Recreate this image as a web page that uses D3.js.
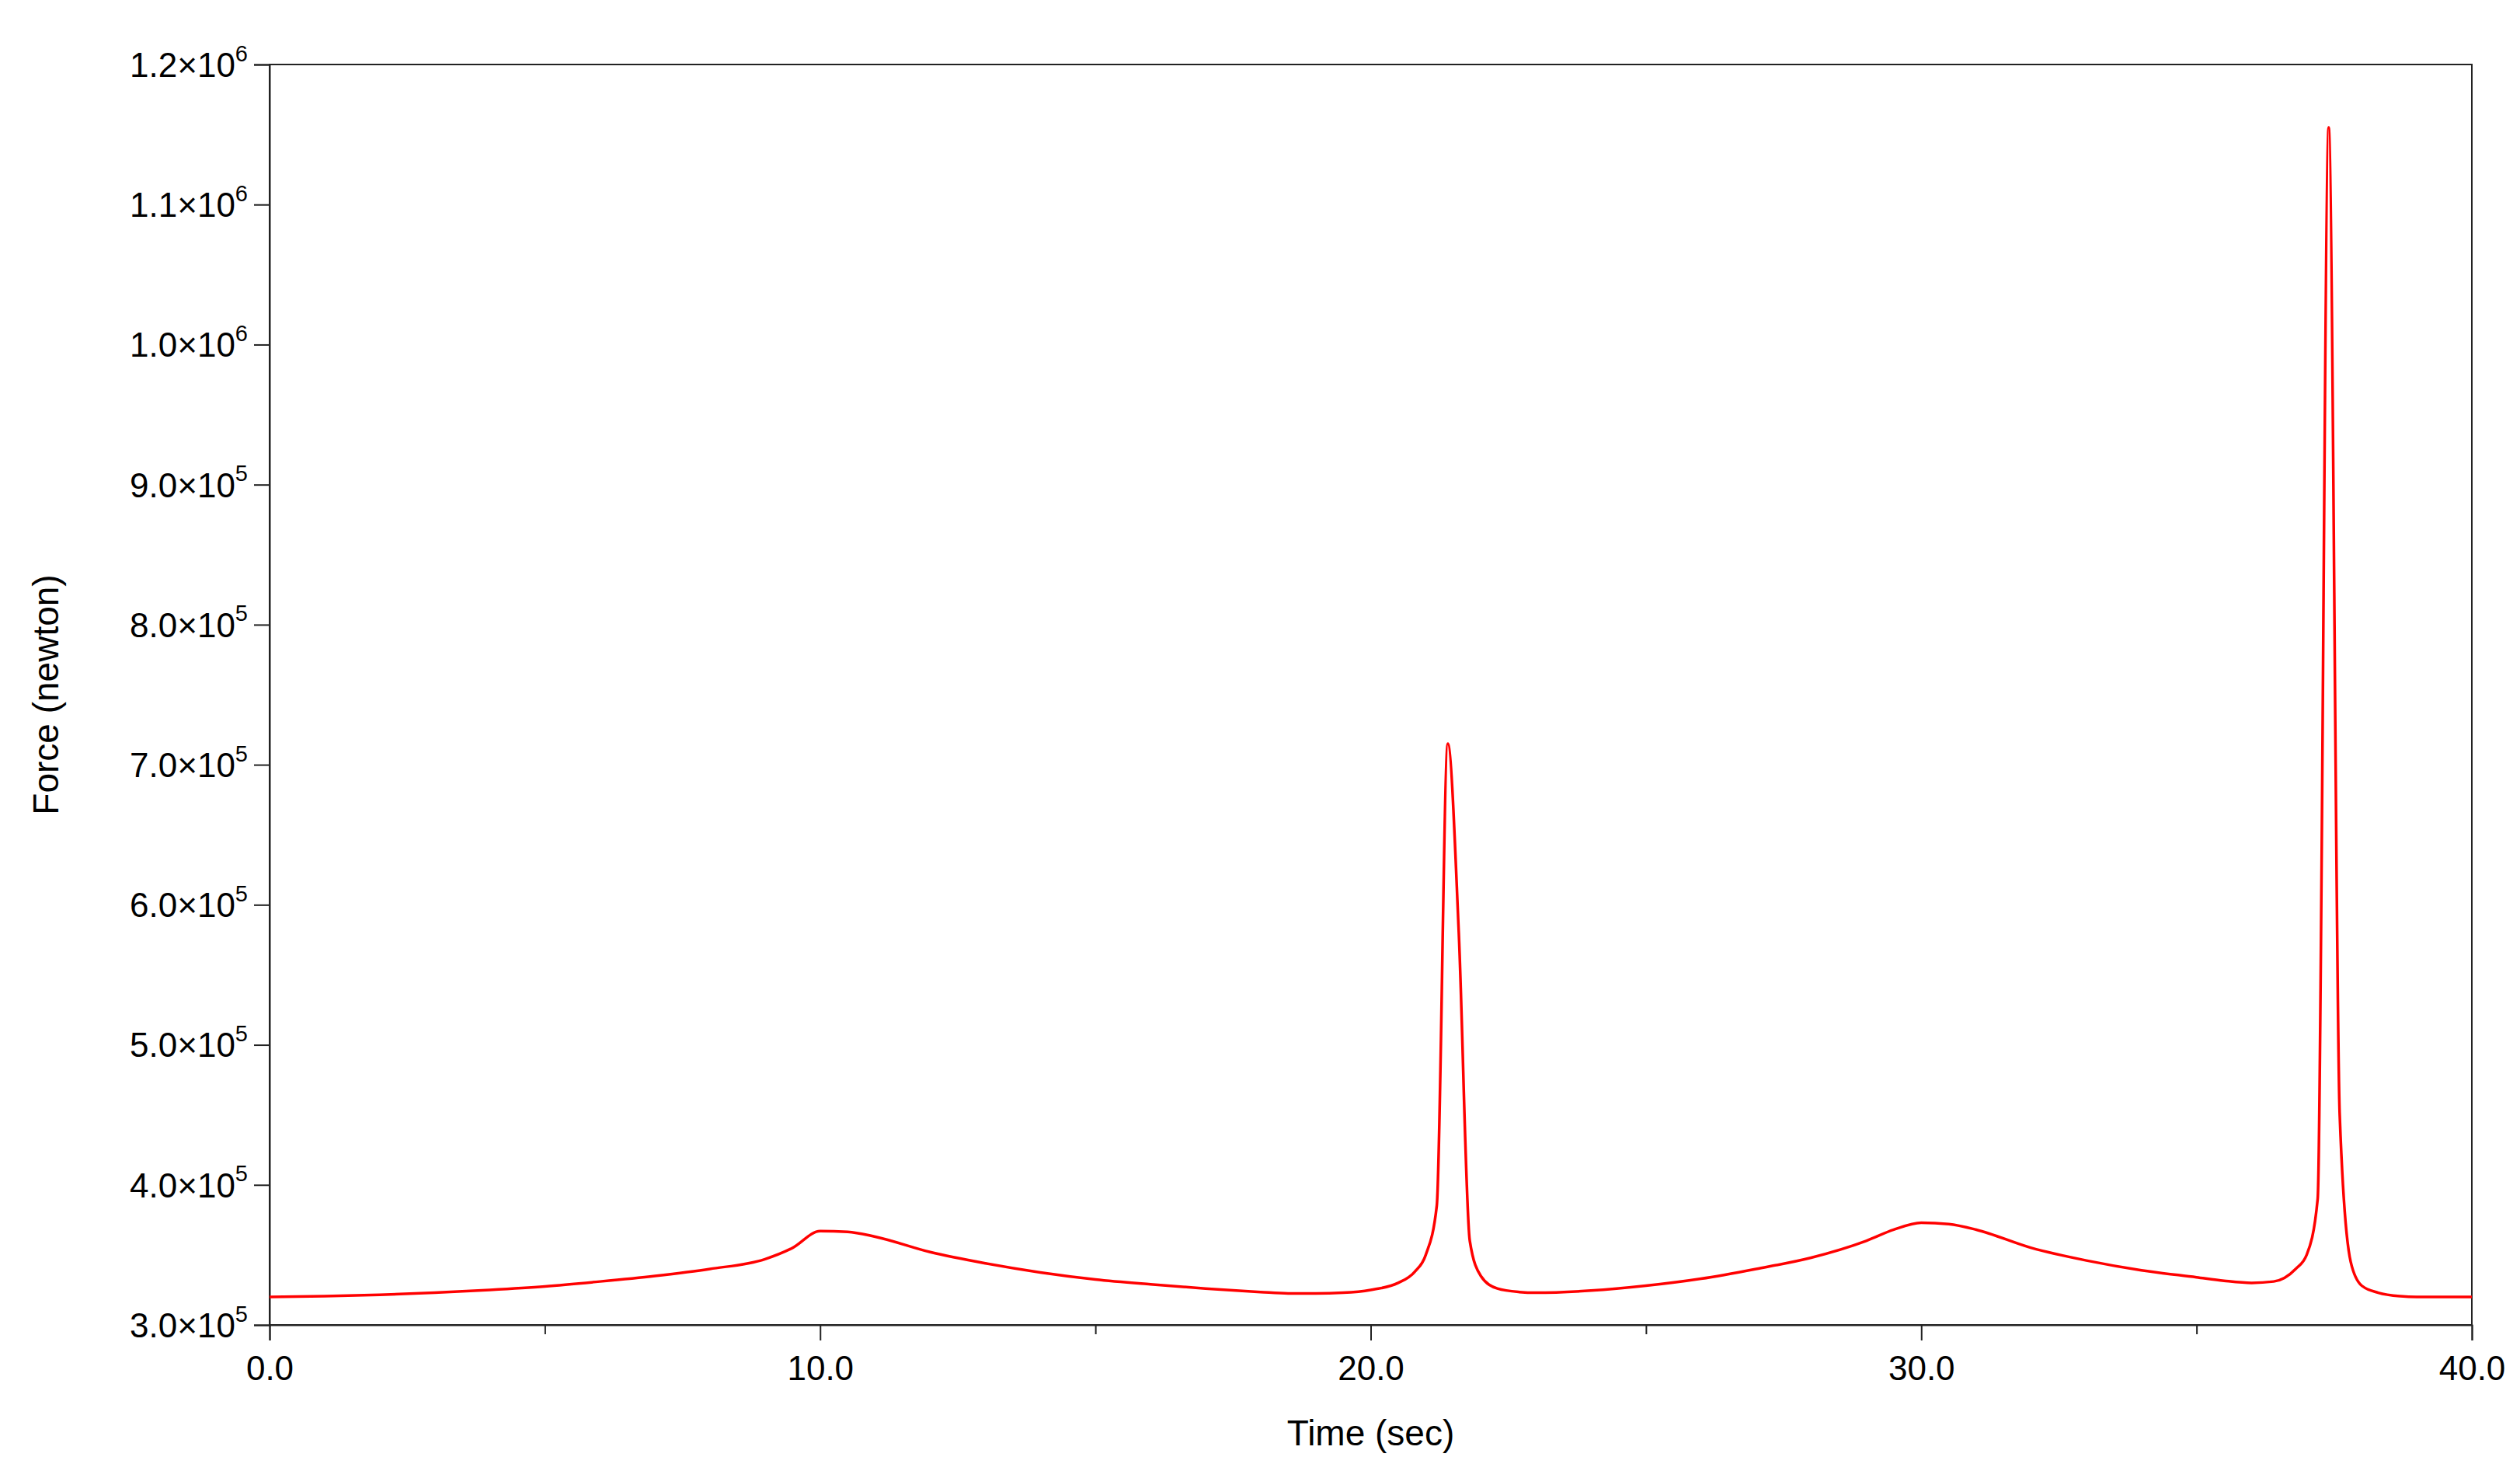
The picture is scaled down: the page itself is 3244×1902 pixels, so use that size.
<!DOCTYPE html>
<html><head><meta charset="utf-8">
<script src="https://cdn.jsdelivr.net/npm/d3@7"></script>
<style>body{margin:0;background:#fff}text{font-family:"Liberation Sans",Arial,sans-serif;fill:#000}</style>
</head><body><svg id="c" width="3244" height="1902"></svg>
<script>
// time (sec) and force (newton)
var time  = [0,1,2,3,4,5,6,7,8,9,9.5,10,10.5,11,12,13,14,15,16,17,18,18.5,19,19.5,20,20.5,20.8,21,21.2,21.4,21.6,21.8,22,22.3,22.7,23,24,25,26,27,28,29,29.5,30,30.5,31,32,33,34,35,35.5,36,36.4,36.8,37.0,37.2,37.4,37.6,37.8,38.0,38.3,38.7,39,40];
var force = [3.20,3.205,3.215,3.23,3.25,3.275,3.31,3.35,3.40,3.47,3.55,3.67,3.665,3.63,3.52,3.44,3.375,3.325,3.29,3.26,3.235,3.225,3.225,3.23,3.25,3.30,3.38,3.50,3.85,7.15,5.80,3.60,3.35,3.26,3.235,3.23,3.245,3.28,3.33,3.40,3.48,3.60,3.68,3.73,3.72,3.68,3.55,3.46,3.39,3.34,3.315,3.30,3.31,3.40,3.50,3.90,11.55,4.50,3.45,3.28,3.23,3.205,3.20,3.20].map(function(v){return v*1e5;});
var xTicks = [0,10,20,30,40];
var xMinor = [5,15,25,35];
var yTicks = [3,4,5,6,7,8,9,10,11,12];

var m = {l:347, r:62, t:83, b:197};
var W = 3244, H = 1902, iw = W-m.l-m.r, ih = H-m.t-m.b;
var svg = d3.select("#c");
var g = svg.append("g").attr("transform","translate("+m.l+","+m.t+")");
var x = d3.scaleLinear().domain([0,40]).range([0,iw]);
var y = d3.scaleLinear().domain([3e5,1.2e6]).range([ih,0]);

// frame
g.append("rect").attr("width",iw).attr("height",ih).attr("fill","none").attr("stroke","#222").attr("stroke-width",2);

var xa = g.append("g").attr("transform","translate(0,"+ih+")")
  .call(d3.axisBottom(x).tickValues(xTicks).tickFormat(d3.format(".1f")).tickSize(20).tickPadding(20));
g.append("g").attr("transform","translate(0,"+ih+")")
  .call(d3.axisBottom(x).tickValues(xMinor).tickFormat("").tickSize(12))
  .select(".domain").remove();
xa.selectAll("text").attr("font-size",44);

var ya = g.append("g").call(d3.axisLeft(y).tickValues(yTicks.map(function(v){return v*1e5;})).tickFormat("").tickSize(20));
ya.selectAll(".tick").each(function(d){
  var e = Math.floor(Math.log10(d)+1e-9), mant = d/Math.pow(10,e);
  var t = d3.select(this).append("text").attr("x",-28).attr("dy","0.35em").attr("text-anchor","end").attr("font-size",44);
  t.append("tspan").text(mant.toFixed(1)+"\u00d710");
  t.append("tspan").attr("font-size",29).attr("dy","-0.7em").text(e);
});
svg.selectAll(".domain,.tick line").attr("stroke","#222").attr("stroke-width",2);

g.append("path").datum(time.map(function(t,i){return [t,force[i]];}))
  .attr("fill","none").attr("stroke","#ff0000").attr("stroke-width",3.5)
  .attr("d",d3.line().x(function(d){return x(d[0]);}).y(function(d){return y(d[1]);}).curve(d3.curveMonotoneX));

svg.append("text").attr("x",m.l+iw/2).attr("y",1860).attr("text-anchor","middle").attr("font-size",46).text("Time (sec)");
svg.append("text").attr("transform","translate(75,"+(m.t+ih/2)+") rotate(-90)").attr("text-anchor","middle").attr("font-size",46).text("Force (newton)");
</script></body></html>
